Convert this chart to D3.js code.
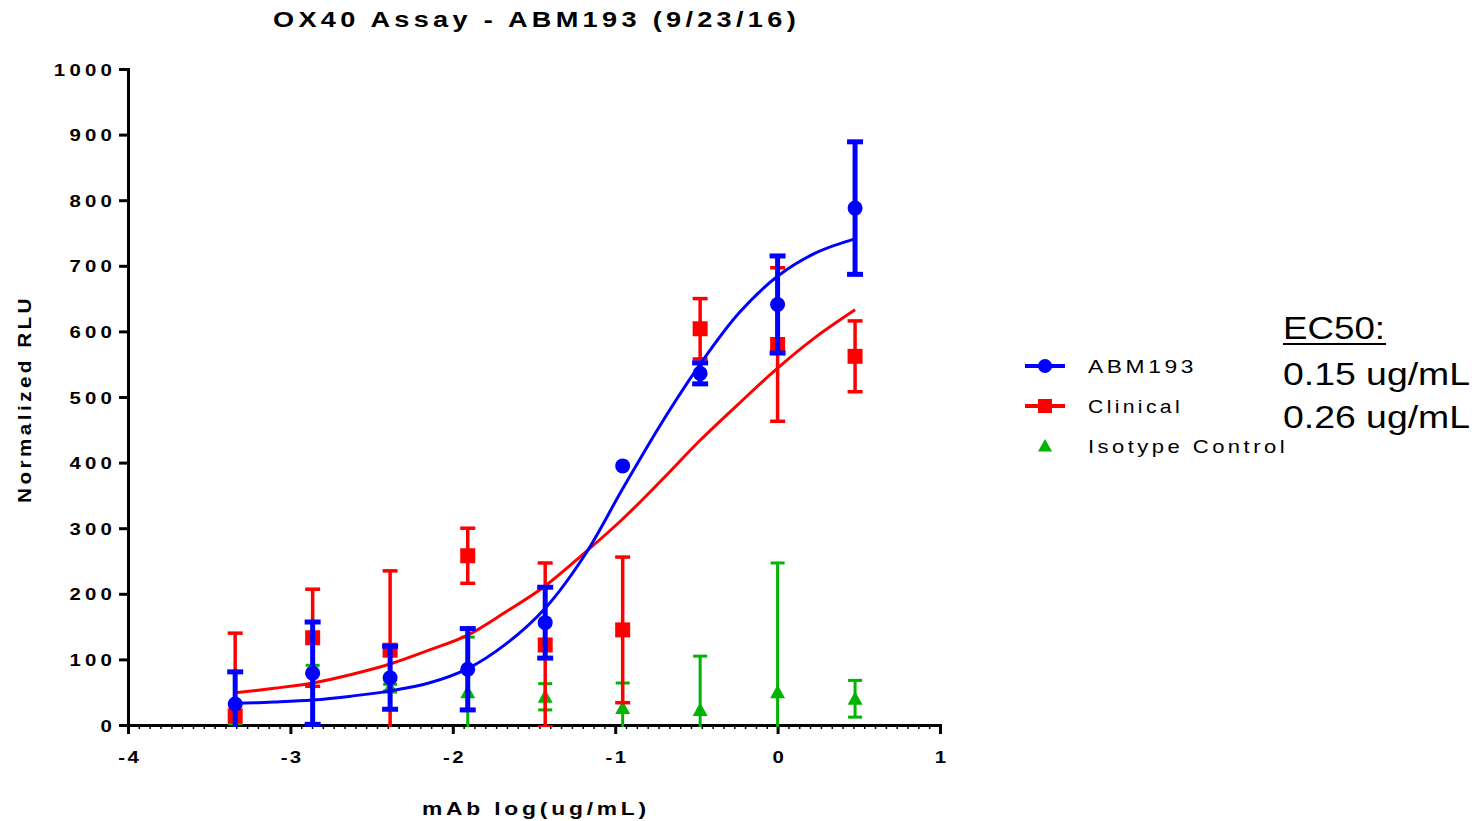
<!DOCTYPE html>
<html>
<head>
<meta charset="utf-8">
<script src="https://cdn.jsdelivr.net/npm/d3@7"></script>
<style>
	body { margin: 0; background: #fff; }
	svg { display: block; }
	text { font-family: 'Liberation Sans', Arial, sans-serif; fill: #000; }
</style>
</head>
<body>
<svg id="chart-svg" width="1474" height="821"></svg>
<script>
// dose axis: log10 of ug/mL, 3-fold dilutions from 3 ug/mL
const DOSE_LOG = [ -3.34, -2.863, -2.386, -1.908, -1.431, -0.954, -0.477, 0, 0.477 ];

// ABM193 (blue circles)
const ABM_MEAN = [ 32, 79, 72, 85, 156, 395, 536, 641, 788 ];
const ABM_ERR = [ 49, 78, 48, 62, 54, 0, 16, 74, 101 ];

// Clinical (red squares)
const CLIN_MEAN = [ 14, 133, 114, 258, 122, 145, 604, 580, 562 ];
const CLIN_ERR = [ 126, 74, 121, 42, 125, 111, 46, 117, 54 ];

// Isotype control (green triangles)
const ISO_MEAN = [ 10, 85, 57, 50, 43, 26, 23, 50, 40 ];
const ISO_ERR = [ 8, 6, 5, 84, 20, 38, 82, 197, 28 ];

// fitted curves at each dose and half-way between
const FIT_X = [ -3.34, -3.1, -2.863, -2.625, -2.386, -2.147, -1.908, -1.67, -1.431, -1.19, -0.954, -0.715, -0.477, -0.238, 0, 0.238, 0.477 ];
const ABM_FIT = [ 33, 35, 38, 44, 52, 64, 86, 124, 178, 258, 360, 460, 550, 628, 684, 720, 741 ];
const CLIN_FIT = [ 49, 56, 64, 77, 93, 114, 137, 173, 212, 262, 314, 373, 434, 490, 544, 592, 633 ];

const X_TICKS = [ -4, -3, -2, -1, 0, 1 ];
const Y_TICKS = [ 0, 100, 200, 300, 400, 500, 600, 700, 800, 900, 1000 ];
const LEGEND_LABELS = [ 'ABM193', 'Clinical', 'Isotype Control' ];
const EC50_LINES = [ '0.15 ug/mL', '0.26 ug/mL' ];

const PADDING = { top: 69, bottom: 96, left: 128, right: 534 };
const STRETCH = 1.2; // text in the original is drawn horizontally stretched
const svg = d3.select('#chart-svg');
const svgWidth = +svg.attr('width');
const svgHeight = +svg.attr('height');

const xScale = d3.scaleLinear([ -4, 1 ], [ PADDING.left, svgWidth - PADDING.right ]);
const yScale = d3.scaleLinear([ 0, 1000 ], [ svgHeight - PADDING.bottom, PADDING.top ]);

const seriesList = [
	{ name: LEGEND_LABELS[2], color: '#00b400', mean: ISO_MEAN, err: ISO_ERR, fit: null, shape: 'triangle', capW: 14, barW: 3 },
	{ name: LEGEND_LABELS[1], color: '#ff0000', mean: CLIN_MEAN, err: CLIN_ERR, fit: CLIN_FIT, shape: 'square', capW: 15, barW: 3.5 },
	{ name: LEGEND_LABELS[0], color: '#0000ff', mean: ABM_MEAN, err: ABM_ERR, fit: ABM_FIT, shape: 'circle', capW: 16, barW: 5 }
];

// clip error bars at y = 0
svg
	.append('clipPath')
	.attr('id', 'plot-clip')
	.append('rect')
	.attr('x', 0)
	.attr('y', 0)
	.attr('width', svgWidth)
	.attr('height', yScale(0) + 2);

// Axes
const xAxis = d3.axisBottom(xScale).tickValues(X_TICKS).tickSize(9).tickSizeOuter(0).tickFormat((d) => String(d));
const xAxisG = svg.append('g').attr('id', 'x-axis').attr('transform', 'translate(0, ' + yScale(0) + ')').call(xAxis);
const minorTicks = d3.range(-4, 1.0001, 1 / 15);
svg
	.append('g')
	.attr('id', 'x-minor')
	.attr('transform', 'translate(0, ' + yScale(0) + ')')
	.call(d3.axisBottom(xScale).tickValues(minorTicks).tickSize(4).tickSizeOuter(0).tickFormat(''))
	.call((g) => g.select('.domain').remove())
	.selectAll('line')
	.attr('stroke-width', 1.5);

const yAxis = d3.axisLeft(yScale).tickValues(Y_TICKS).tickSize(9).tickSizeOuter(0).tickFormat((d) => String(d));
const yAxisG = svg.append('g').attr('id', 'y-axis').attr('transform', 'translate(' + xScale(-4) + ', 0)').call(yAxis);

[ xAxisG, yAxisG ].forEach((g) => {
	g.select('.domain').attr('stroke-width', 3).attr('stroke-linecap', 'square');
	g.selectAll('.tick line').attr('stroke-width', 3);
	g
		.selectAll('.tick text')
		.attr('font-family', null)
		.attr('transform', 'scale(' + STRETCH + ',1)')
		.style('font-weight', 'bold')
		.style('font-size', '17px');
});
xAxisG.selectAll('.tick text').attr('y', 38).attr('dy', 0).attr('dx', 1).style('letter-spacing', '2px');
yAxisG.selectAll('.tick text').attr('x', -10).attr('dy', '0.36em').style('letter-spacing', '3.5px');

function stretchedText(parent, x, y, len, size, weight, spacing, str) {
	return parent
		.append('text')
		.attr('x', x)
		.attr('y', y)
		.attr('textLength', len)
		.attr('lengthAdjust', 'spacingAndGlyphs')
		.style('font-weight', weight)
		.style('font-size', size + 'px')
		.style('letter-spacing', spacing + 'px')
		.text(str);
}

stretchedText(svg, 422, 815, 228, 18, 'bold', 3, 'mAb log(ug/mL)');
stretchedText(svg, 0, 0, 208, 18, 'bold', 3, 'Normalized RLU').attr('transform', 'translate(31, 503) rotate(-90)');
stretchedText(svg, 273, 27, 527, 22, 'bold', 3.5, 'OX40 Assay - ABM193 (9/23/16)');

function markerPath(shape, size) {
	if (shape === 'circle') return d3.symbol(d3.symbolCircle, Math.PI * size * size / 4)();
	if (shape === 'square') return d3.symbol(d3.symbolSquare, size * size)();
	return 'M0,' + -size * 0.5 + 'L' + size * 0.5 + ',' + size * 0.4 + 'L' + -size * 0.5 + ',' + size * 0.4 + 'Z';
}

const fitLine = d3
	.line()
	.x((d, i) => xScale(FIT_X[i]))
	.y((d) => yScale(d))
	.curve(d3.curveCatmullRom.alpha(0.5));

seriesList.forEach((s) => {
	const g = svg.append('g').attr('class', 'series');
	if (s.fit) {
		g.append('path').attr('d', fitLine(s.fit)).attr('fill', 'none').attr('stroke', s.color).attr('stroke-width', 3);
	}
	const bars = g
		.append('g')
		.attr('clip-path', 'url(#plot-clip)')
		.selectAll('g')
		.data(s.mean.map((m, i) => ({ x: DOSE_LOG[i], m: m, e: s.err[i] })).filter((d) => d.e > 0))
		.enter()
		.append('g')
		.attr('stroke', s.color)
		.attr('stroke-width', s.barW);
	bars
		.append('line')
		.attr('x1', (d) => xScale(d.x))
		.attr('x2', (d) => xScale(d.x))
		.attr('y1', (d) => yScale(d.m - d.e))
		.attr('y2', (d) => yScale(d.m + d.e));
	[ -1, 1 ].forEach((sign) => {
		bars
			.append('line')
			.attr('x1', (d) => xScale(d.x) - s.capW / 2)
			.attr('x2', (d) => xScale(d.x) + s.capW / 2)
			.attr('y1', (d) => yScale(d.m + sign * d.e))
			.attr('y2', (d) => yScale(d.m + sign * d.e));
	});
	g
		.selectAll('path.marker')
		.data(s.mean)
		.enter()
		.append('path')
		.attr('class', 'marker')
		.attr('d', markerPath(s.shape, 15))
		.attr('transform', (d, i) => 'translate(' + xScale(DOSE_LOG[i]) + ',' + yScale(d) + ')')
		.attr('fill', s.color);
});

// Legend
const legendG = svg.append('g').attr('id', 'legend');
const legendRows = [ seriesList[2], seriesList[1], seriesList[0] ];
legendRows.forEach((s, i) => {
	const cy = 366 + i * 40;
	if (s.fit) {
		legendG.append('line').attr('x1', 1025).attr('x2', 1065).attr('y1', cy).attr('y2', cy).attr('stroke', s.color).attr('stroke-width', 4);
	}
	legendG
		.append('path')
		.attr('d', markerPath(s.shape, 14))
		.attr('transform', 'translate(1045,' + cy + ')')
		.attr('fill', s.color);
	stretchedText(legendG, 1088, cy + 7, [ 109, 95, 200 ][i], 19, 'normal', 3, s.name);
});

// EC50 annotation
const ec50G = svg.append('g').attr('id', 'ec50');
stretchedText(ec50G, 1283, 339, 102, 31, 'normal', 0, 'EC50:');
ec50G.append('line').attr('x1', 1283).attr('x2', 1386).attr('y1', 344).attr('y2', 344).attr('stroke', '#000').attr('stroke-width', 2);
EC50_LINES.forEach((t, i) => {
	stretchedText(ec50G, 1283, 385 + i * 43, 187, 31, 'normal', 0, t);
});
</script>
</body>
</html>
